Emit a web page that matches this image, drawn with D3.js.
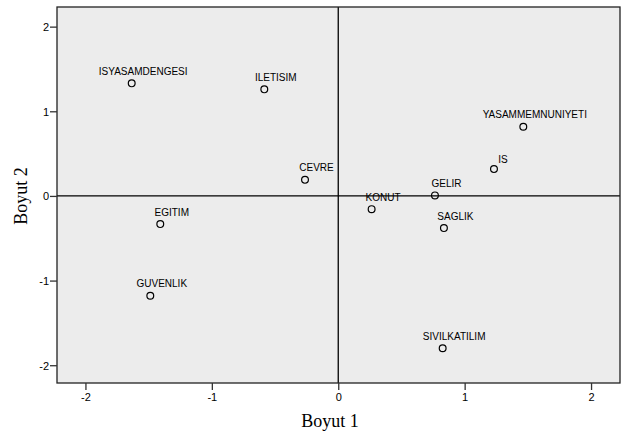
<!DOCTYPE html>
<html>
<head>
<meta charset="utf-8">
<script src="https://cdn.jsdelivr.net/npm/d3@7"></script>
<style>
  html, body { margin: 0; padding: 0; background: #ffffff; }
  svg { display: block; }
</style>
</head>
<body>
<svg id="chart" width="629" height="447"></svg>
<script>
const labels = ["ISYASAMDENGESI", "ILETISIM", "CEVRE", "KONUT", "GELIR", "SAGLIK",
                "YASAMMEMNUNIYETI", "IS", "EGITIM", "GUVENLIK", "SIVILKATILIM"];
const dim1 = [-1.634, -0.585, -0.263, 0.264, 0.765, 0.836, 1.464, 1.232, -1.408, -1.487, 0.826];
const dim2 = [1.330, 1.259, 0.190, -0.156, 0.006, -0.380, 0.817, 0.317, -0.333, -1.180, -1.800];
const xTicks = [-2, -1, 0, 1, 2];
const yTicks = [-2, -1, 0, 1, 2];
const xTitle = "Boyut 1";
const yTitle = "Boyut 2";

const svg = d3.select("#chart");
const pLeft = 57, pRight = 620, pTop = 7, pBottom = 383;

const x = d3.scaleLinear().domain([-2.225, 2.229]).range([pLeft, pRight]);
const y = d3.scaleLinear().domain([-2.21, 2.232]).range([pBottom, pTop]);

// plot background
svg.append("rect")
  .attr("x", pLeft).attr("y", pTop)
  .attr("width", pRight - pLeft).attr("height", pBottom - pTop)
  .attr("fill", "#ececec");

// zero reference lines
svg.append("line")
  .attr("x1", x(0)).attr("x2", x(0)).attr("y1", pTop).attr("y2", pBottom)
  .attr("stroke", "#000").attr("stroke-width", 1.3);
svg.append("line")
  .attr("x1", pLeft).attr("x2", pRight).attr("y1", y(0)).attr("y2", y(0))
  .attr("stroke", "#000").attr("stroke-width", 1.3);

// frame
svg.append("rect")
  .attr("x", pLeft).attr("y", pTop)
  .attr("width", pRight - pLeft).attr("height", pBottom - pTop)
  .attr("fill", "none").attr("stroke", "#222").attr("stroke-width", 1.3);

// axes
const xAxis = svg.append("g")
  .attr("transform", `translate(0,${pBottom})`)
  .call(d3.axisBottom(x).tickValues(xTicks).tickFormat(d3.format("d")).tickSize(7).tickSizeOuter(0));
const yAxis = svg.append("g")
  .attr("transform", `translate(${pLeft},0)`)
  .call(d3.axisLeft(y).tickValues(yTicks).tickFormat(d3.format("d")).tickSize(7).tickSizeOuter(0));

[xAxis, yAxis].forEach(g => {
  g.select(".domain").remove();
  g.selectAll(".tick line").attr("stroke", "#333").attr("stroke-width", 1.3);
  g.selectAll(".tick text")
    .attr("fill", "#000")
    .style("font-family", "'Liberation Sans', Arial, sans-serif")
    .style("font-size", "11px");
});
xAxis.selectAll(".tick text").attr("dy", "0.71em").attr("y", 10);
yAxis.selectAll(".tick text").attr("x", -8).attr("dy", "0.35em");
yAxis.selectAll(".tick text").text(d => d < 0 ? "-" + Math.abs(d) : d);
xAxis.selectAll(".tick text").text(d => d < 0 ? "-" + Math.abs(d) : d);

// axis titles
svg.append("text")
  .attr("x", 330).attr("y", 427)
  .attr("text-anchor", "middle")
  .style("font-family", "'Liberation Serif', 'Times New Roman', serif")
  .style("font-size", "18px")
  .attr("fill", "#000")
  .text(xTitle);
svg.append("text")
  .attr("transform", "translate(27,196) rotate(-90)")
  .attr("text-anchor", "middle")
  .style("font-family", "'Liberation Serif', 'Times New Roman', serif")
  .style("font-size", "18px")
  .attr("fill", "#000")
  .text(yTitle);

// points
const data = labels.map((l, i) => ({label: l, a: dim1[i], b: dim2[i]}));
const pts = svg.append("g");
pts.selectAll("circle").data(data).enter().append("circle")
  .attr("cx", d => x(d.a)).attr("cy", d => y(d.b))
  .attr("r", 3.4)
  .attr("fill", "none").attr("stroke", "#000").attr("stroke-width", 1.2);
pts.selectAll("text").data(data).enter().append("text")
  .attr("x", d => x(d.a) + (d.label === "IS" ? 9 : 11.5))
  .attr("y", d => y(d.b) - (d.label === "IS" ? 10 : 12))
  .attr("dy", "0.35em")
  .attr("text-anchor", "middle")
  .style("font-family", "'Liberation Sans', Arial, sans-serif")
  .style("font-size", "10px")
  .attr("fill", "#000")
  .text(d => d.label);
</script>
</body>
</html>
